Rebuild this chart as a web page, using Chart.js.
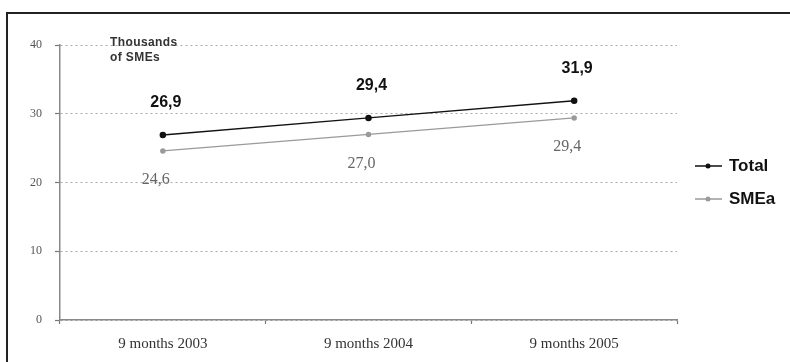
<!DOCTYPE html>
<html>
<head>
<meta charset="utf-8">
<script src="https://cdn.jsdelivr.net/npm/chart.js@4/dist/chart.umd.min.js"></script>
<style>
  html, body { margin: 0; padding: 0; background: #fff; }
  #wrap { position: relative; width: 790px; height: 362px; overflow: hidden; }
  #frame { position: absolute; left: 6px; top: 12px; width: 800px; height: 400px;
           border-left: 2px solid #222; border-top: 2px solid #222; }
  #unit { position: absolute; left: 110px; top: 35px; font: bold 12px Arial, "Liberation Sans", sans-serif;
          color: #333; line-height: 15px; letter-spacing: 0.4px; }
  canvas { position: absolute; left: 0; top: 0; }
</style>
</head>
<body>
<div id="wrap">
  <div id="frame"></div>
  <canvas id="canvas1" width="790" height="362"></canvas>
  <div id="unit">Thousands<br>of SMEs</div>
</div>
<script>
var categories = ['9 months 2003', '9 months 2004', '9 months 2005'];
var total_data = [26.9, 29.4, 31.9];
var smea_data = [24.6, 27.0, 29.4];
var y_ticks = [0, 10, 20, 30, 40];

function fmt(v) {
  return v.toFixed(1).replace('.', ',');
}

// value labels above Total, below SMEa
var valueLabels = {
  id: 'valueLabels',
  afterDatasetsDraw: function(chart) {
    var ctx = chart.ctx;
    ctx.save();
    ctx.textAlign = 'center';
    ctx.textBaseline = 'middle';
    chart.data.datasets.forEach(function(ds, i) {
      var meta = chart.getDatasetMeta(i);
      meta.data.forEach(function(pt, j) {
        if (i === 0) {
          ctx.font = 'bold 16px Arial, "Liberation Sans", sans-serif';
          ctx.fillStyle = '#111';
          ctx.fillText(fmt(ds.data[j]), pt.x + 3, pt.y - 32);
        } else {
          ctx.font = '16px "Liberation Serif", "Times New Roman", serif';
          ctx.fillStyle = '#666';
          ctx.fillText(fmt(ds.data[j]), pt.x - 7, pt.y + 29);
        }
      });
    });
    ctx.restore();
  }
};

// legend on the right
var sideLegend = {
  id: 'sideLegend',
  afterDraw: function(chart) {
    var ctx = chart.ctx;
    var x0 = chart.chartArea.right + 18;
    var ys = [166, 199];
    ctx.save();
    chart.data.datasets.forEach(function(ds, i) {
      var y = ys[i];
      ctx.strokeStyle = ds.borderColor;
      ctx.lineWidth = 1.5;
      ctx.beginPath();
      ctx.moveTo(x0, y);
      ctx.lineTo(x0 + 27, y);
      ctx.stroke();
      ctx.fillStyle = ds.pointBackgroundColor;
      ctx.beginPath();
      ctx.arc(x0 + 13, y, 2.5, 0, Math.PI * 2);
      ctx.fill();
      ctx.font = 'bold 17px Arial, "Liberation Sans", sans-serif';
      ctx.fillStyle = '#111';
      ctx.textAlign = 'left';
      ctx.textBaseline = 'middle';
      ctx.fillText(ds.label, x0 + 34, y);
    });
    ctx.restore();
  }
};

var ctx = document.getElementById('canvas1').getContext('2d');
new Chart(ctx, {
  type: 'line',
  data: {
    labels: categories,
    datasets: [{
      label: 'Total',
      data: total_data,
      borderColor: '#111',
      backgroundColor: '#111',
      pointBackgroundColor: '#111',
      pointBorderColor: '#111',
      pointRadius: 2.5,
      borderWidth: 1.5,
      tension: 0
    }, {
      label: 'SMEa',
      data: smea_data,
      borderColor: '#9a9a9a',
      backgroundColor: '#9a9a9a',
      pointBackgroundColor: '#9a9a9a',
      pointBorderColor: '#9a9a9a',
      pointRadius: 2,
      borderWidth: 1.5,
      tension: 0
    }]
  },
  options: {
    responsive: false,
    animation: false,
    layout: { padding: { left: 0, right: 113, top: 45, bottom: 0 } },
    plugins: { legend: { display: false }, tooltip: { enabled: false } },
    scales: {
      x: {
        offset: true,
        grid: { display: true, drawOnChartArea: false, offset: true, tickLength: 4, tickColor: '#777', tickWidth: 1.2 },
        border: { color: '#888', width: 1.5 },
        ticks: { color: '#333', padding: 11, font: { family: '"Liberation Serif", "Times New Roman", serif', size: 15 } },
        afterFit: function(scale) { scale.height = 42; }
      },
      y: {
        min: 0,
        max: 40,
        afterBuildTicks: function(scale) {
          scale.ticks = y_ticks.map(function(v) { return { value: v }; });
        },
        grid: { color: '#aaa', lineWidth: 1, tickLength: 5, tickColor: '#777', tickWidth: 1.2 },
        border: { color: '#888', width: 1.5, dash: [2, 3] },
        ticks: { color: '#555', padding: 13, font: { family: '"Liberation Serif", "Times New Roman", serif', size: 12 } },
        afterFit: function(scale) { scale.width = 60; }
      }
    }
  },
  plugins: [valueLabels, sideLegend]
});
</script>
</body>
</html>
